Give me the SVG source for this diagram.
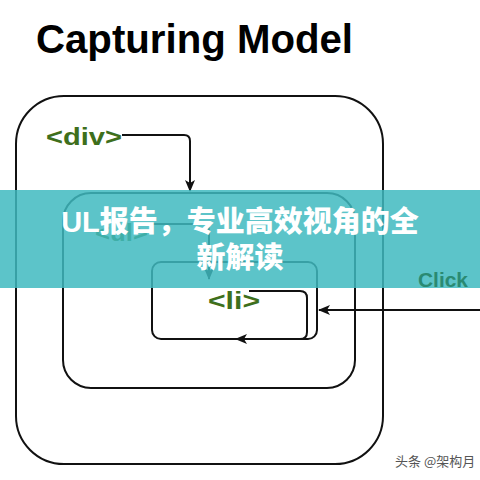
<svg xmlns="http://www.w3.org/2000/svg" width="480" height="480" viewBox="0 0 480 480">
<style>
.box{fill:none;stroke:#111;stroke-width:2}
.con{fill:none;stroke:#111;stroke-width:2}
.tag{font-family:"Liberation Sans",Arial,sans-serif;font-weight:bold;font-size:24px;fill:#3e6f1c}
</style>
<defs>
<marker id="ah" viewBox="0 0 12 10" refX="11" refY="5" markerWidth="12" markerHeight="10" markerUnits="userSpaceOnUse" orient="auto">
<path d="M0,0 L12,5 L0,10 L3,5 Z" fill="#111"/>
</marker>
</defs>
<rect width="480" height="480" fill="#fff"/>
<text x="36" y="53" font-family="Liberation Sans,Arial,sans-serif" font-weight="bold" font-size="40" fill="#000" textLength="317" lengthAdjust="spacingAndGlyphs">Capturing Model</text>
<g id="outer"><rect class="box" x="16" y="96" width="367" height="368" rx="48"/></g>
<g id="middle"><rect class="box" x="63" y="193" width="292" height="195" rx="28"/></g>
<g id="inner"><rect class="box" x="152" y="262" width="165" height="77" rx="9"/></g>
<g id="div-label"><text class="tag" x="46" y="145" textLength="76" lengthAdjust="spacingAndGlyphs">&lt;div&gt;</text></g>
<g id="ul-label"><text class="tag" x="95" y="241" textLength="53" lengthAdjust="spacingAndGlyphs">&lt;ul&gt;</text></g>
<g id="li-label"><text class="tag" x="208" y="309" textLength="52" lengthAdjust="spacingAndGlyphs">&lt;li&gt;</text></g>
<g id="connectors">
<path class="con" d="M122,135 H184 Q190,135 190,141 V191" marker-end="url(#ah)"/>
<path class="con" d="M149,224 H203 Q209,224 209,230 V279" marker-end="url(#ah)"/>
<path class="con" d="M249,291 H300 Q307,291 307,298 V332 Q307,339 300,339 H236" marker-end="url(#ah)"/>
<path class="con" d="M480,310 H319" marker-end="url(#ah)"/>
</g>
<rect x="0" y="190" width="480" height="98" fill="#40bac0" fill-opacity="0.85"/>
<g id="click-label"><text x="418" y="287" font-family="Liberation Sans,Arial,sans-serif" font-weight="bold" font-size="21" fill="#2a8a72" textLength="50" lengthAdjust="spacingAndGlyphs">Click</text></g>
<g font-family="Liberation Sans,'Noto Sans CJK SC',sans-serif" font-weight="900" font-size="29" fill="#fff" text-anchor="middle">
<text x="240" y="232">UL报告，专业高效视角的全</text>
<text x="240" y="268">新解读</text>
</g>
<text x="395" y="466" font-family="'Noto Sans CJK SC',sans-serif" font-size="13" fill="#555">头条 @架构月</text>
</svg>
